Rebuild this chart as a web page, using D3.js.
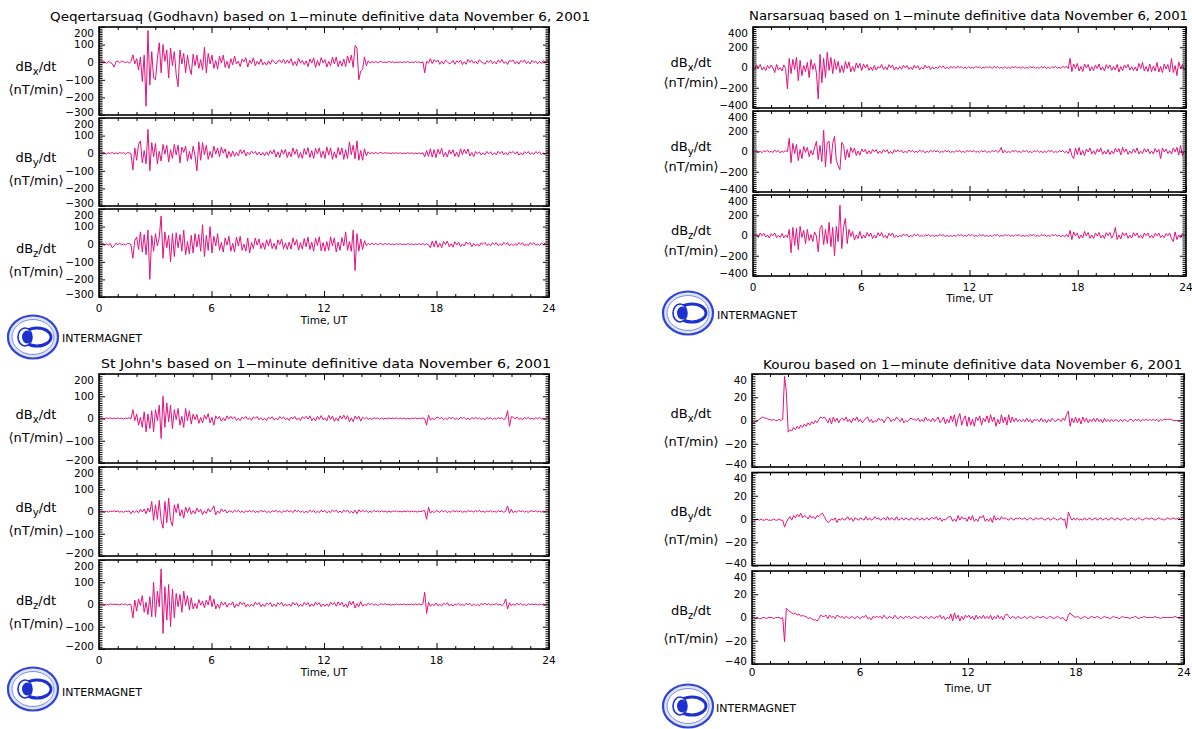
<!DOCTYPE html>
<html>
<head>
<meta charset="utf-8">
<script src="https://cdn.jsdelivr.net/npm/d3@7"></script>
<style>
  html, body { margin: 0; padding: 0; background: #fff; }
  svg { display: block; }
  text { font-family: "DejaVu Sans", "Liberation Sans", sans-serif; fill: #000; }
</style>
</head>
<body>
<svg id="chart" width="1192" height="729"></svg>
<script>
// ---- Data: rate of change of the field components, 6-minute samples (10 per hour), nT/min ----
const stationNames = ["Qeqertarsuaq (Godhavn)", "Narsarsuaq", "St John's", "Kourou"];
const dataDate = "November 6, 2001";
const componentNames = ["X", "Y", "Z"];
const hourTicks = [0, 6, 12, 18, 24];

const godhavnTicks = [-300, -200, -100, 0, 100, 200];
const narsarsuaqTicks = [-400, -200, 0, 200, 400];
const stJohnsTicks = [-200, -100, 0, 100, 200];
const kourouTicks = [-40, -20, 0, 20, 40];

const godhavnX = [
  5,-3,8,2,-6,4,-2,-8,-28,3,
  6,-4,7,2,-2,3,-6,4,42,-10,
  20,-45,30,-110,40,-250,180,-130,60,-90,
  -100,20,110,-60,100,5,70,-90,80,-20,
  60,-70,-140,70,-10,50,-60,40,-30,-70,
  45,-20,40,-35,15,-45,85,-60,50,-10,
  40,-35,10,-40,35,-5,40,-30,5,-35,
  20,-15,35,-10,5,-25,18,2,25,-28,
  12,-8,25,-20,5,-12,18,-15,0,-17,
  8,-12,14,2,-10,6,12,-4,16,-8,
  12,-6,20,-18,4,-20,22,-6,10,-14,
  8,-25,18,-5,25,-30,10,-20,26,-4,
  15,-28,5,-20,28,-10,30,-26,8,-22,
  18,-25,35,-5,40,-30,95,80,-100,-50,
  -40,30,-20,8,-5,4,-3,5,-4,3,
  3,-2,1,-2,4,-1,2,-3,1,-2,
  2,-3,2,-1,3,-2,1,-2,3,-1,
  2,-4,3,-60,5,-5,20,-8,15,2,
  12,-12,5,-10,12,2,-8,-4,10,-12,
  8,-2,12,-14,3,-12,16,-1,11,-6,
  6,-10,14,2,-4,-11,8,-1,12,-9,
  4,-10,12,-2,15,-6,2,-13,11,3,
  12,-9,5,-11,10,0,13,-8,4,-10,
  10,-2,6,-9,4,-7,9,1,8,-3
];
const godhavnY = [
  4,-3,6,2,-5,3,-2,5,-4,2,
  -3,5,-2,4,-6,3,2,-4,-95,30,
  -40,50,70,-55,15,-60,135,-100,60,-20,
  55,-60,10,-45,50,-5,45,-50,20,-30,
  50,-10,45,-55,35,5,40,-45,10,-35,
  40,-15,-100,65,-40,60,-10,45,-35,10,
  -25,40,-5,30,-20,35,0,25,-28,10,
  -20,12,-18,5,-15,20,-2,18,-16,6,
  -8,12,-2,10,-10,6,-12,4,-14,8,
  -12,15,-4,20,-22,8,-25,20,-6,22,
  -25,8,-20,30,-6,22,-28,5,-30,26,
  -8,32,-25,15,-30,28,-5,30,-25,12,
  -30,35,-10,30,-35,8,-28,32,-10,30,
  -35,20,-30,65,-8,45,-32,70,-40,15,
  -40,25,-15,8,-5,4,-3,5,-4,3,
  3,-2,4,-1,2,-3,2,-1,3,-2,
  2,-3,1,-2,3,-1,2,-3,1,-2,
  2,-4,3,-20,15,-18,25,-22,20,-25,
  22,-5,28,-20,5,-22,18,-4,20,-18,
  6,-22,25,-8,22,-2,24,-16,4,-20,
  10,-4,8,-10,2,-9,10,-3,8,-10,
  3,-10,11,-2,10,-9,4,-10,8,1,
  10,-4,9,-11,2,-10,9,-2,10,-7,
  3,-7,9,-1,8,-9,2,-8,6,-2
];
const godhavnZ = [
  3,-2,6,-4,2,-5,4,-20,-10,5,
  -3,6,-4,2,-5,3,4,-3,-80,20,
  40,-30,70,-45,55,-60,80,-200,50,-40,
  60,-10,40,160,-80,70,-20,50,-100,60,
  -70,65,-20,55,-40,80,-60,15,-55,50,
  -50,60,-15,55,-40,110,-70,50,-35,100,
  -50,45,-10,60,-35,10,-45,35,-5,45,
  -40,5,-45,40,-10,45,-35,0,-40,35,
  -50,10,-25,35,-5,30,-25,8,-30,25,
  -10,30,-25,5,-30,25,-2,30,-26,8,
  -30,12,-28,35,-5,26,-34,10,-28,32,
  -15,40,-30,12,-40,35,-8,42,-38,10,
  -40,15,-35,42,-10,36,-45,12,-35,38,
  -10,70,-35,15,-40,80,-150,60,-40,30,
  -30,20,-8,5,-4,6,-3,5,-4,3,
  2,-3,4,-1,3,-2,1,-3,2,-1,
  3,-2,1,-3,4,-1,2,-3,1,-2,
  3,-2,4,-5,3,-4,-20,18,-15,20,
  -18,5,-20,16,-2,18,-15,3,-17,14,
  -5,12,-14,2,-10,13,-1,10,-14,4,
  -10,2,-11,8,-1,10,-8,2,-9,8,
  -2,8,-9,3,-7,10,-1,9,-10,2,
  -8,3,-7,10,-2,8,-10,1,-8,9,
  -2,8,-6,1,-8,7,-1,8,-5,3
];

const narsarsuaqX = [
  10,-20,25,-5,30,-25,5,-30,20,-10,
  25,-5,-50,30,-25,0,-35,25,-10,-210,
  90,-60,80,-20,100,-130,70,-80,20,-40,
  50,-100,80,-20,40,-50,-310,130,-150,90,
  -100,150,-30,100,-60,80,-20,60,-50,20,
  -50,60,-10,55,-45,10,-40,45,-5,40,
  -30,35,-5,30,-28,5,-30,20,-25,8,
  -5,30,-20,8,-22,28,-3,24,-26,5,
  -20,10,-18,22,-4,20,-18,5,-20,22,
  -5,18,-22,3,-16,22,-4,15,-20,6,
  -15,5,-12,15,-2,14,-12,4,-14,12,
  -3,10,-8,13,-2,9,-9,3,-10,8,
  -8,4,-9,11,-2,8,-10,3,-7,9,
  -2,8,-10,12,-3,9,-8,2,-9,10,
  -10,3,-9,8,-2,10,-7,4,-8,9,
  -10,2,-8,9,-3,8,-10,2,-9,10,
  -4,9,-10,3,-10,8,-2,11,-8,3,
  -10,12,-2,11,-10,90,-40,35,-10,40,
  -35,10,-40,35,-5,30,-35,8,-30,25,
  -10,35,-25,5,-35,28,-8,25,-28,10,
  -25,30,-45,10,-30,25,-5,30,-25,8,
  -30,5,-35,40,-10,50,-35,10,-40,35,
  -40,15,-35,50,-45,10,-50,35,-15,30,
  -45,90,-50,20,-80,55,-10,30,-25,5
];
const narsarsuaqY = [
  10,-5,12,-10,3,-12,8,-2,10,-8,
  2,-10,15,-4,10,-14,2,-8,10,-3,
  130,-110,80,-20,70,-90,20,-70,50,-10,
  40,-50,10,-35,40,100,-80,60,-100,210,
  -150,90,100,-120,80,150,-90,-140,-180,90,
  60,-80,20,-60,40,-10,35,-40,5,-35,
  25,-5,20,-25,8,-22,20,-4,18,-20,
  5,-18,20,-4,18,-20,2,-22,18,-6,
  15,-2,12,-15,4,-12,16,-3,12,-10,
  2,-10,14,-3,10,-13,2,-9,12,-2,
  10,-4,9,-11,2,-8,12,-3,9,-11,
  2,-9,10,-2,9,-10,3,-11,10,-1,
  9,-3,10,-8,2,-9,10,-2,8,-10,
  1,-9,11,-2,12,-8,2,40,-15,12,
  -12,2,-11,9,-1,12,-8,2,-11,9,
  -2,11,-9,1,-12,8,-2,11,-9,2,
  -11,3,-10,12,-1,10,-11,2,-10,9,
  -2,10,-12,3,-20,30,-40,-70,35,-30,
  40,-35,10,-40,25,-5,35,-25,8,-28,
  25,-5,35,-28,4,-25,20,-30,5,-22,
  30,-5,28,-35,40,-8,25,-28,5,-20,
  25,-10,35,-25,3,-20,28,-5,25,-22,
  5,-25,30,-8,22,-70,35,-5,25,-20,
  8,-25,35,-3,40,-35,60,-40,5,-20
];
const narsarsuaqZ = [
  20,-5,15,-20,25,-3,22,-15,5,-25,
  18,-2,25,-22,3,-18,20,-25,5,-20,
  60,-170,80,-100,70,-140,90,-20,50,-80,
  60,-50,10,-60,35,-5,-160,70,100,-90,
  60,-80,130,-110,80,-200,90,-60,300,-130,
  80,170,-80,60,-10,40,-45,5,-30,40,
  -30,5,-25,30,-8,25,-30,2,-25,28,
  -5,30,-20,3,-28,22,-4,24,-20,3,
  -15,2,-12,15,-3,12,-16,1,-12,14,
  -2,12,-9,2,-10,8,-1,9,-10,3,
  -9,2,-8,11,-1,10,-12,2,-10,1,
  -10,2,-9,10,-2,9,-8,1,-9,11,
  -2,10,-9,1,-10,9,-2,8,-9,1,
  -9,2,-10,9,-1,11,-9,2,-8,9,
  -2,9,-8,1,-9,8,-1,9,-11,2,
  -9,1,-8,9,-2,11,-9,2,-10,9,
  -1,8,-9,2,-10,9,-2,10,-9,3,
  -12,2,-14,12,-15,50,-40,35,-5,25,
  -30,5,-25,40,-5,30,-28,5,-30,25,
  -5,30,-25,5,-30,28,-2,30,-26,8,
  80,-40,5,-35,28,-3,25,-28,4,-25,
  28,-4,25,-22,3,-28,25,-2,24,-22,
  2,-25,22,-4,25,-20,3,-22,20,-3,
  25,-30,-60,35,-40,5,-25,20,-3,15
];

const stJohnsX = [
  4,-1,2,-2,3,0,3,-2,2,-1,
  3,-1,2,-3,2,0,3,-1,40,-10,
  20,-30,5,-40,30,-60,20,-45,35,-60,
  40,-10,60,-90,100,-40,70,-15,60,-45,
  40,-5,45,-30,10,-40,45,-10,35,-25,
  20,-5,18,-22,5,-20,15,-3,22,-20,
  5,-30,12,-2,10,-12,3,-10,12,-2,
  10,-2,8,-9,1,-10,6,-1,9,-4,
  3,-8,7,0,9,-6,4,-7,1,-9,
  6,-2,8,-7,1,-6,9,-1,7,-5,
  2,-9,6,-2,9,-6,3,-9,8,-1,
  10,-3,12,-10,2,-11,10,-4,13,-6,
  2,-10,14,-4,11,-13,3,-11,12,-2,
  15,-4,13,-15,3,-14,11,-2,10,-12,
  6,-2,5,-4,2,-5,4,-1,3,-4,
  2,-3,1,-2,3,-1,2,0,3,-2,
  3,-1,2,-3,1,-2,2,-1,3,-1,
  2,-2,3,-1,-30,15,-8,2,-5,4,
  6,-1,5,-6,2,-5,6,-1,5,-4,
  1,-5,6,0,5,-4,2,-6,4,-1,
  5,-2,4,-5,1,-6,5,-1,4,-5,
  2,-4,5,-1,4,-5,1,35,-35,8,
  6,-2,7,-4,1,-6,5,-2,6,-3,
  2,-4,4,-1,5,-3,1,-3,4,-1
];
const stJohnsY = [
  3,-1,2,-2,1,-3,2,0,3,-1,
  2,-3,1,-4,2,-1,3,-10,3,-5,
  4,-6,10,-2,12,-10,15,-3,45,-40,
  30,-35,50,-40,-75,45,-50,60,-40,-65,
  30,-5,35,-20,8,-30,20,-5,18,-12,
  4,-10,15,-2,10,-14,3,-9,13,-2,
  10,25,-15,3,-8,12,-1,8,-7,2,
  2,-5,6,-1,5,-4,1,-5,3,-1,
  4,-2,5,-5,1,-4,6,-1,4,-5,
  1,-5,4,-1,5,-3,2,-6,3,-1,
  5,-2,4,-5,7,-1,5,-4,2,-5,
  1,-5,6,-2,5,-6,1,-5,6,-2,
  5,-6,2,-5,7,-1,6,-5,2,-6,
  6,-2,7,-6,1,-7,6,-10,8,-2,
  5,-1,4,-5,2,-4,5,-1,3,-2,
  3,-1,2,-3,1,-3,2,0,3,-2,
  1,-2,2,-1,3,-2,2,-1,2,-3,
  2,-1,3,4,-35,20,-8,2,-5,4,
  1,-4,5,-1,4,-5,1,-4,5,-2,
  3,-1,3,-4,1,-3,4,0,3,-3,
  4,-1,5,-3,2,-4,3,-1,4,-2,
  1,-3,4,-1,3,-4,2,25,-8,10,
  -6,2,-4,5,-1,4,-3,1,-4,2,
  3,-1,4,-2,1,-3,2,0,2,-1
];
const stJohnsZ = [
  2,-1,3,-2,1,-2,3,0,2,-1,
  1,-2,3,0,2,-3,1,-1,-60,20,
  -30,25,-5,40,-35,10,-45,35,-55,100,
  -55,60,-10,160,-130,80,-70,90,-100,70,
  -60,50,-10,45,-35,60,-5,40,-25,30,
  -20,5,-18,22,-3,15,-15,20,-2,40,
  -10,25,-20,2,-18,12,-3,10,-12,5,
  -2,12,-15,3,-8,12,-1,9,-11,2,
  -9,2,-8,11,-1,9,-10,2,-9,7,
  -1,9,-10,2,-9,8,-1,10,-8,3,
  -7,2,-8,10,-2,8,-10,1,-8,9,
  -2,8,-10,3,-8,11,-2,8,-10,2,
  -8,3,-9,11,-1,9,-8,12,-3,10,
  -10,3,-14,15,-2,14,-16,4,-10,13,
  -8,2,-5,7,-1,5,-4,2,-5,1,
  3,-1,4,-2,2,-3,1,-2,3,-1,
  2,-1,3,-2,1,-1,2,-2,3,-1,
  3,-2,2,55,-40,10,-8,2,-5,7,
  -6,1,-7,6,-1,8,-6,1,-7,2,
  -2,6,-4,1,-5,6,-1,5,-6,2,
  -5,1,-6,5,-1,6,-2,4,-3,1,
  -1,5,-3,1,-5,3,25,-20,8,-6,
  2,-4,6,-1,5,-4,1,-5,4,-1,
  3,-1,2,-3,2,-1,3,-2,1,-2
];

const kourouX = [
  -1,-2,-1,0,1,2,3,2,2,1,
  1,0,1,0,0,1,0,1,38,25,
  -10,-8,-9,-6,-8,-5,-7,-4,-6,-3,
  -5,-2,-4,-1,-3,0,-2,1,3,2,
  3,1,-2,2,-3,3,-1,2,-2,1,
  2,0,3,-1,1,-2,2,0,3,-1,
  1,-2,0,2,3,-1,1,-2,0,-1,
  2,0,1,-2,1,3,2,-1,1,0,
  3,1,-1,2,-2,0,-1,1,2,1,
  1,0,2,-1,1,-1,3,0,1,-1,
  2,-1,1,3,-2,0,3,-3,1,-2,
  4,-1,5,-5,2,6,-4,1,4,-5,
  3,-4,1,-5,3,0,4,-4,2,-1,
  4,-2,5,-1,3,-5,1,-3,5,-2,
  3,-4,5,-2,3,-1,2,-1,1,-1,
  1,-1,2,-1,1,-2,1,0,1,-1,
  2,-1,1,-2,1,-1,2,0,-1,1,
  1,-1,2,0,5,8,-5,2,-2,3,
  -2,2,-3,3,-1,2,-2,1,-1,2,
  -1,2,-1,1,-2,2,-1,1,-1,1,
  -1,1,0,-1,1,-1,1,0,-1,1,
  1,-1,1,0,1,-1,1,0,1,0,
  1,0,1,0,1,-1,1,0,1,1,
  1,1,1,0,0,0,0,0,0,0
];
const kourouY = [
  0,-1,-1,0,-1,0,-1,-1,0,-1,
  -1,-1,0,-1,-1,0,-1,-1,-7,-3,
  0,2,-1,3,1,4,2,5,1,3,
  2,0,3,1,2,0,3,2,4,5,
  2,-1,-3,-2,0,-1,1,-3,0,-1,
  1,-1,0,2,-1,1,-2,1,0,-1,
  1,0,-1,2,-1,1,-1,0,2,0,
  1,-1,0,1,-1,2,-1,1,0,-1,
  2,-1,0,1,-1,1,0,-1,1,0,
  -1,1,0,-1,1,-1,0,1,-1,1,
  1,0,2,-1,1,-2,0,-1,1,2,
  2,-2,0,-2,3,-1,2,0,1,-2,
  2,-1,3,-2,0,-2,2,1,3,-2,
  0,-2,1,-3,3,-1,1,-1,2,0,
  1,0,-1,1,0,-1,1,0,1,0,
  0,1,-1,0,1,0,-1,1,0,0,
  1,0,-1,0,1,-1,0,1,0,-1,
  0,1,-1,0,-8,6,2,-1,1,-1,
  1,-1,0,-1,1,-1,0,1,-1,0,
  1,-1,0,1,-1,0,1,-1,0,1,
  0,-1,1,0,-1,0,1,0,-1,0,
  1,0,-1,0,1,0,-1,0,1,0,
  0,1,0,-1,0,1,0,0,-1,0,
  1,0,0,1,0,0,1,0,0,0
];
const kourouZ = [
  1,0,-1,0,-1,-1,0,0,-1,0,
  0,0,-1,0,0,0,-1,0,-21,8,
  6,5,4,3,4,2,3,1,2,1,
  1,-1,0,-1,-2,-2,-3,-1,2,1,
  1,2,-1,2,0,1,-1,2,1,0,
  1,-1,1,0,-1,1,0,-1,1,0,
  -1,1,0,2,-1,0,-2,1,0,1,
  0,1,-1,2,0,-1,1,0,-1,2,
  0,-1,1,0,-1,1,0,1,-1,0,
  1,0,-1,1,0,-1,1,0,-1,1,
  0,-1,1,0,2,-1,1,-2,0,-1,
  3,-3,4,-1,2,-3,1,-2,2,0,
  2,-1,1,-2,2,-1,1,-1,2,-1,
  1,-1,2,-2,1,-1,2,-1,1,-2,
  2,3,1,-1,1,0,-1,1,0,-1,
  0,1,-1,0,1,0,-1,0,1,0,
  0,1,0,-1,0,1,0,-1,0,1,
  0,-1,0,-2,-3,2,4,2,1,0,
  1,0,-1,0,1,0,-1,0,1,0,
  0,1,0,-1,0,1,0,0,-1,0,
  1,0,0,-1,0,1,0,0,0,-1,
  0,0,1,0,-1,0,0,1,0,0,
  0,0,0,1,0,0,-1,0,0,0,
  0,0,0,0,1,0,0,0,0,0
];

// ---- Panel layout (one block of three stacked plots per observatory) ----
const panels = [
  { station: stationNames[0], series: [godhavnX, godhavnY, godhavnZ], ticks: godhavnTicks, minor: 10,
    left: 99, right: 549, top: 27, step: 91, height: 88,
    titleX: 50, titleW: 540, titleY: 21, labelCX: 36, labelDy1: 0, labelDy2: 23,
    hourY: 312, timeY: 324, logoX: 33, logoY: 337, brandX: 62, brandY: 342 },
  { station: stationNames[1], series: [narsarsuaqX, narsarsuaqY, narsarsuaqZ], ticks: narsarsuaqTicks, minor: 20,
    left: 753, right: 1186, top: 27, step: 84, height: 81,
    titleX: 749, titleW: 439, titleY: 20, labelCX: 691, labelDy1: -1, labelDy2: 19,
    hourY: 291, timeY: 302, logoX: 688, logoY: 313, brandX: 717, brandY: 319 },
  { station: stationNames[2], series: [stJohnsX, stJohnsY, stJohnsZ], ticks: stJohnsTicks, minor: 10,
    left: 99, right: 549, top: 374, step: 93, height: 89,
    titleX: 101, titleW: 450, titleY: 368, labelCX: 36, labelDy1: 0, labelDy2: 23,
    hourY: 664, timeY: 676, logoX: 33, logoY: 689, brandX: 62, brandY: 696 },
  { station: stationNames[3], series: [kourouX, kourouY, kourouZ], ticks: kourouTicks, minor: 2,
    left: 752, right: 1184, top: 374, step: 98.5, height: 93,
    titleX: 763, titleW: 419, titleY: 369, labelCX: 691, labelDy1: -3, labelDy2: 25,
    hourY: 676, timeY: 692, logoX: 688, logoY: 706, brandX: 716, brandY: 712 }
];

const LINE_COLOR = "#e4127e";
const svg = d3.select("#chart");

function drawLogo(g, cx, cy) {
  const l = g.append("g").attr("transform", `translate(${cx},${cy})`);
  l.append("ellipse").attr("rx", 25).attr("ry", 21.5)
    .attr("fill", "#dfe5ff").attr("stroke", "#2f45d8").attr("stroke-width", 2.2);
  l.append("ellipse").attr("rx", 21).attr("ry", 17.5)
    .attr("fill", "#fff").attr("stroke", "#7d8ce8").attr("stroke-width", 1);
  l.append("ellipse").attr("cx", 4).attr("rx", 14).attr("ry", 9)
    .attr("fill", "#fff").attr("stroke", "#1c31cf").attr("stroke-width", 3);
  l.append("ellipse").attr("cx", -8).attr("rx", 7).attr("ry", 9)
    .attr("fill", "#fff").attr("stroke", "#1c31cf").attr("stroke-width", 1.6);
  l.append("ellipse").attr("cx", -6).attr("rx", 5).attr("ry", 6.5)
    .attr("fill", "#1c31cf");
}

panels.forEach((p, pi) => {
  const g = svg.append("g");
  const x = d3.scaleLinear().domain([0, 24]).range([p.left, p.right]);
  const yMin = d3.min(p.ticks), yMax = d3.max(p.ticks);
  const minorTicks = d3.range(yMin, yMax + 1e-9, p.minor).filter(v => !p.ticks.includes(v));
  const hourMinor = d3.range(0, 25).filter(h => !hourTicks.includes(h));

  // title
  g.append("text")
    .attr("x", p.titleX).attr("y", p.titleY)
    .attr("font-size", 12)
    .attr("textLength", p.titleW).attr("lengthAdjust", "spacingAndGlyphs")
    .text(`${p.station} based on 1\u2212minute definitive data ${dataDate}`);

  p.series.forEach((values, si) => {
    const top = p.top + si * p.step;
    const bottom = top + p.height;
    const y = d3.scaleLinear().domain([yMin, yMax]).range([bottom, top]);
    const sg = g.append("g");
    const clipId = `clip-${pi}-${si}`;
    sg.append("clipPath").attr("id", clipId)
      .append("rect").attr("x", p.left).attr("y", top)
      .attr("width", p.right - p.left).attr("height", p.height);

    // data trace
    const n = values.length;
    const line = d3.line()
      .x((d, i) => x(i * 24 / (n - 1)))
      .y(d => y(d));
    sg.append("path")
      .attr("clip-path", `url(#${clipId})`)
      .attr("d", line(values))
      .attr("fill", "none")
      .attr("stroke", LINE_COLOR)
      .attr("stroke-width", 1)
      .attr("stroke-linejoin", "round");

    // axes: ticks point inward on all four sides
    const leftMajor = sg.append("g").attr("transform", `translate(${p.left},0)`)
      .call(d3.axisLeft(y).tickValues(p.ticks).tickSize(-6).tickPadding(5)
        .tickFormat(d => d < 0 ? "\u2212" + Math.abs(d) : d));
    sg.append("g").attr("transform", `translate(${p.left},0)`)
      .call(d3.axisLeft(y).tickValues(minorTicks).tickSize(-3.5).tickFormat(""));
    sg.append("g").attr("transform", `translate(${p.right},0)`)
      .call(d3.axisRight(y).tickValues(p.ticks).tickSize(-6).tickFormat(""));
    sg.append("g").attr("transform", `translate(${p.right},0)`)
      .call(d3.axisRight(y).tickValues(minorTicks).tickSize(-3.5).tickFormat(""));
    sg.append("g").attr("transform", `translate(0,${bottom})`)
      .call(d3.axisBottom(x).tickValues(hourTicks).tickSize(-6).tickFormat(""));
    sg.append("g").attr("transform", `translate(0,${bottom})`)
      .call(d3.axisBottom(x).tickValues(hourMinor).tickSize(-3).tickFormat(""));
    sg.append("g").attr("transform", `translate(0,${top})`)
      .call(d3.axisTop(x).tickValues(hourTicks).tickSize(-6).tickFormat(""));
    sg.append("g").attr("transform", `translate(0,${top})`)
      .call(d3.axisTop(x).tickValues(hourMinor).tickSize(-3).tickFormat(""));

    sg.selectAll(".domain").remove();
    sg.selectAll(".tick line").attr("stroke", "#000").attr("stroke-width", 1);
    leftMajor.selectAll("text")
      .attr("font-size", 10.5).attr("font-family", "DejaVu Sans, sans-serif").attr("fill", "#000")
      .attr("dy", (d) => d === yMax ? "0.9em" : d === yMin ? "0.05em" : "0.32em");

    // frame
    sg.append("rect")
      .attr("x", p.left).attr("y", top)
      .attr("width", p.right - p.left).attr("height", p.height)
      .attr("fill", "none").attr("stroke", "#000").attr("stroke-width", 1.6);

    // component label, e.g. dBx/dt (nT/min)
    const mid = (top + bottom) / 2;
    const lab = sg.append("text")
      .attr("x", p.labelCX).attr("y", mid + p.labelDy1)
      .attr("text-anchor", "middle").attr("font-size", 13);
    lab.append("tspan").text("dB");
    lab.append("tspan").attr("dy", 4).attr("font-size", 10).text(componentNames[si].toLowerCase());
    lab.append("tspan").attr("dy", -4).text("/dt");
    sg.append("text")
      .attr("x", p.labelCX).attr("y", mid + p.labelDy2)
      .attr("text-anchor", "middle").attr("font-size", 13)
      .text("\u27E8nT/min\u27E9");

    // hour labels under the last plot only
    if (si === p.series.length - 1) {
      g.append("g").selectAll("text").data(hourTicks).join("text")
        .attr("x", d => x(d)).attr("y", p.hourY)
        .attr("text-anchor", "middle").attr("font-size", 10.5)
        .text(d => d);
      g.append("text")
        .attr("x", (p.left + p.right) / 2).attr("y", p.timeY)
        .attr("text-anchor", "middle").attr("font-size", 10.5)
        .text("Time, UT");
    }
  });

  drawLogo(g, p.logoX, p.logoY);
  g.append("text")
    .attr("x", p.brandX).attr("y", p.brandY)
    .attr("font-size", 11).attr("textLength", 80).attr("lengthAdjust", "spacingAndGlyphs")
    .text("INTERMAGNET");
});
</script>
</body>
</html>
